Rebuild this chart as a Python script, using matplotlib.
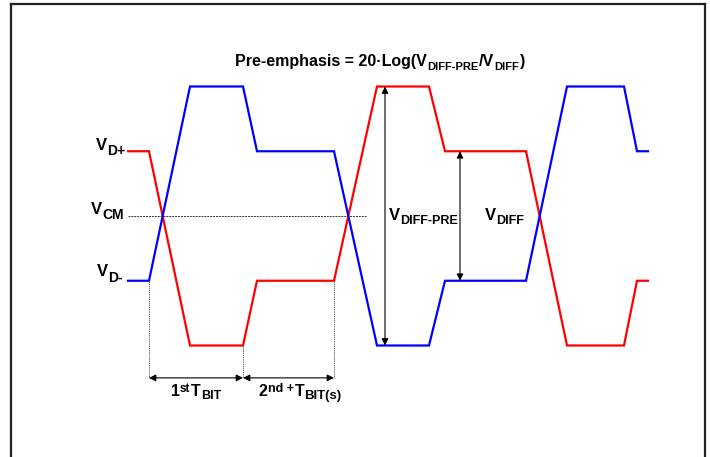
import matplotlib
matplotlib.use('Agg')
import matplotlib.pyplot as plt
from matplotlib.transforms import offset_copy
from matplotlib.lines import Line2D

# ---------------- data ----------------
t_knots = [128, 149, 190, 243, 257, 334, 377, 429, 445, 526, 567, 624, 637, 648]
v_dplus = [1, 1, -2, -2, -1, -1, 2, 2, 1, 1, -2, -2, -1, -1]
v_dminus = [-1, -1, 2, 2, 1, 1, -2, -2, -1, -1, 2, 2, 1, 1]
v_cm = 0.0
v_diff_pre = 2.0
v_diff = 1.0
bit_edges = [149, 243, 334]
bit_level = [-1, -2, -1]
dim_level = -2.5

FONT = ['Liberation Sans', 'DejaVu Sans']
S = 64.75  # px per volt unit

fig = plt.figure(figsize=(7.10, 4.57), dpi=100)
ax = fig.add_axes([0, 0, 1, 1])
ax.set_xlim(0, 710)
ax.set_ylim((216 - 457) / S, 216 / S)
ax.axis('off')


def Y(py):
    return (216 - py) / S


# frame
for xs, ys in [([11 / 710, 11 / 710], [0, 1 - 4 / 457]),
               ([705 / 710, 705 / 710], [0, 1 - 4 / 457]),
               ([11 / 710, 705 / 710], [1 - 4 / 457, 1 - 4 / 457])]:
    fig.add_artist(Line2D(xs, ys, transform=fig.transFigure, color='#222222', lw=1.6))

# waveforms
ax.plot(t_knots, v_dplus, color='#FF0000', lw=1.6, solid_joinstyle='miter')
ax.plot(t_knots, v_dminus, color='#0000FF', lw=1.6, solid_joinstyle='miter')

# VCM dashed line
ax.plot([t_knots[0], 367], [v_cm, v_cm], color='#333333', lw=0.7, dashes=(2, 1))

# dotted bit edges
for x, lv in zip(bit_edges, bit_level):
    ax.plot([x, x], [lv, dim_level], color='#555555', lw=0.7, dashes=(1.2, 1))

arrow_kw = dict(arrowstyle='<|-|>', color='black', lw=0.8, mutation_scale=10,
                shrinkA=0, shrinkB=0)
for a, b in zip(bit_edges[:-1], bit_edges[1:]):
    ax.annotate('', xy=(b, dim_level), xytext=(a, dim_level), arrowprops=arrow_kw)

ax.annotate('', xy=(385, -v_diff_pre), xytext=(385, v_diff_pre), arrowprops=arrow_kw)
ax.annotate('', xy=(460, -v_diff), xytext=(460, v_diff), arrowprops=arrow_kw)

renderer = fig.canvas.get_renderer()


def rich(x, y, parts, ha='left'):
    arts = []
    widths = []
    for s, size, dy, gap in parts:
        t = ax.text(x, y, s, fontsize=size, fontweight='bold', family=FONT,
                    va='baseline', ha='left', color='black')
        w = t.get_window_extent(renderer).width + gap
        arts.append((t, dy))
        widths.append(w)
    total = sum(widths)
    cur = {'left': 0, 'center': -total / 2, 'right': -total}[ha]
    for (t, dy), w in zip(arts, widths):
        t.set_transform(offset_copy(ax.transData, fig=fig, x=cur, y=-dy, units='dots'))
        cur += w


# title
rich(380, Y(66), [('Pre-emphasis = 20\u00b7Log(V', 11.5, 0, 0), ('DIFF-PRE', 8, 3.5, 1),
                  ('/V', 11.5, 0, 0), ('DIFF', 8, 3.5, 0.5), (')', 11.5, 0, 0)], ha='center')

# side labels
rich(125, Y(150), [('V', 12, 0, 0), ('D+', 10, 5, 0)], ha='right')
rich(124, Y(214), [('V', 12, 0, 0), ('CM', 10, 5, 0)], ha='right')
rich(123, Y(276), [('V', 12, 0, 0), ('D-', 10, 6, 0)], ha='right')

# VDIFF labels
rich(389, Y(220), [('V', 12, 0, 0), ('DIFF-PRE', 9, 4, 0)])
rich(485, Y(220), [('V', 12, 0, 0), ('DIFF', 9, 4, 0)])

# bit labels
rich(196, Y(396), [('1', 11.5, 0, 0), ('st', 8.5, -4, 0.5), ('T', 11.5, 0, 0), ('BIT', 9, 3, 0)], ha='center')
rich(300, Y(396), [('2', 11.5, 0, 0.5), ('nd +', 9, -4, 1), ('T', 11.5, 0, 0), ('BIT(s)', 9.5, 3, 0)], ha='center')

fig.savefig('out.png', dpi=100, facecolor='white')
